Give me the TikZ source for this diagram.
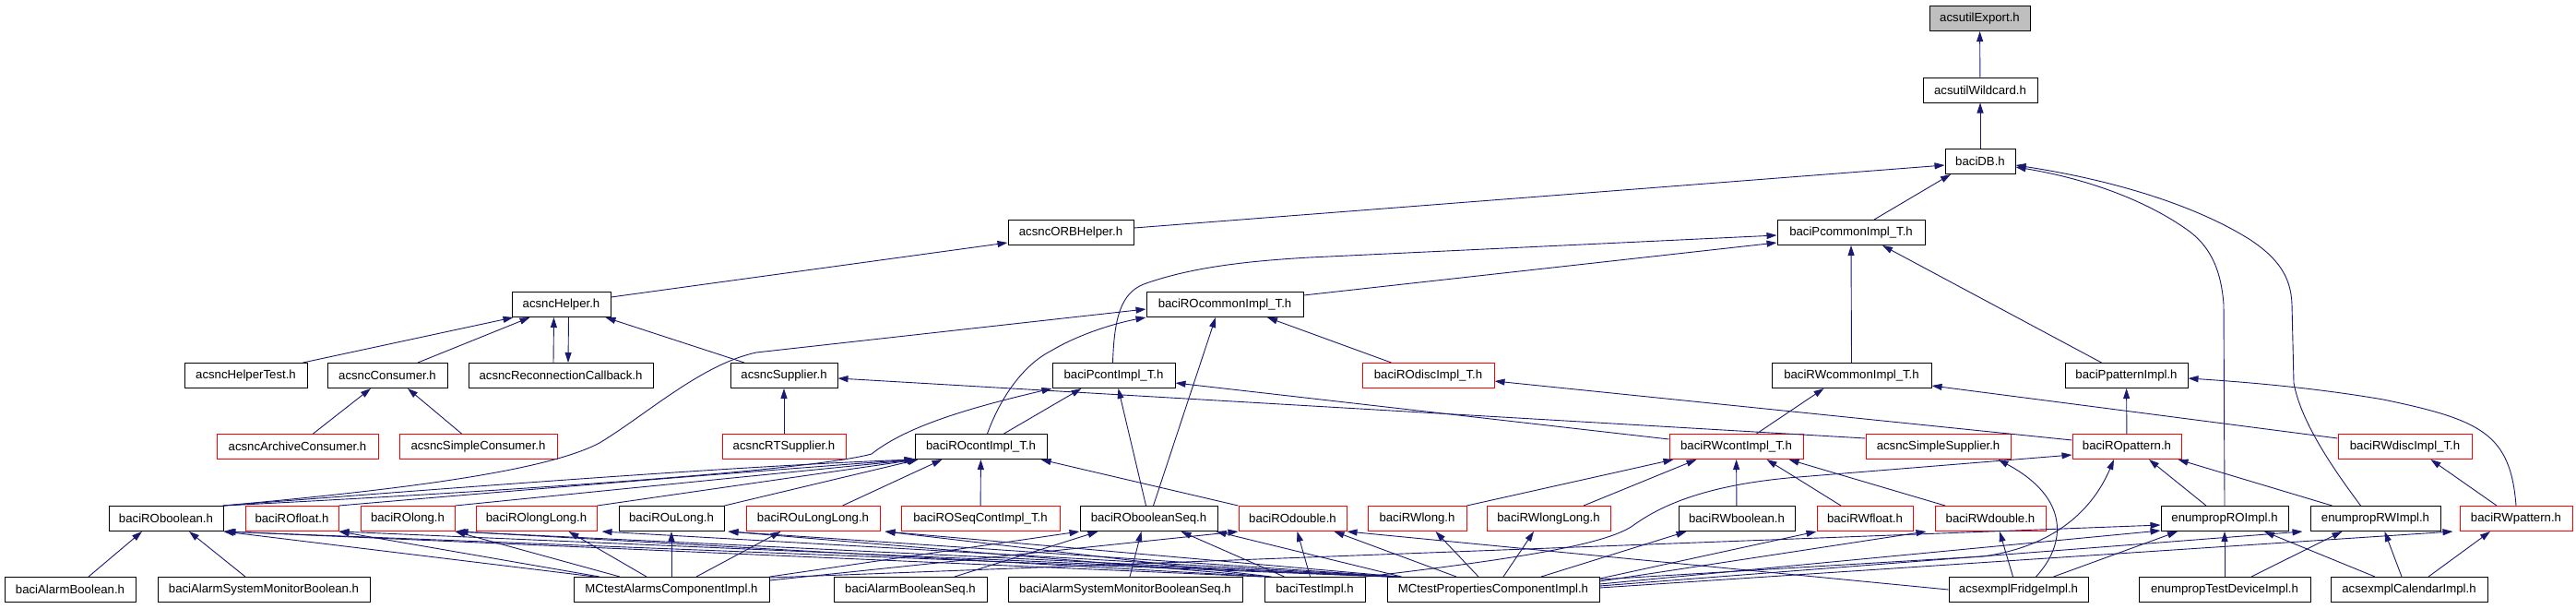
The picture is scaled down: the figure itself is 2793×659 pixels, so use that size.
\documentclass[tikz,border=0pt]{standalone}
\usepackage{fontspec}
\setmainfont{Liberation Sans}
\usetikzlibrary{arrows.meta}
\definecolor{edgeblue}{HTML}{191970}
\definecolor{rootgray}{HTML}{BFBFBF}
\begin{document}
\begin{tikzpicture}[x=1pt,y=-1pt,
  fnode/.style={draw=black, line width=1pt, minimum height=27pt, inner sep=0pt, font=\fontsize{13.2}{15}\selectfont, text=black},
  rnode/.style={fnode, draw=red},
  dep/.style={draw=edgeblue, line width=0.9pt, -{Triangle[length=11pt,width=7pt]}},
]
\useasboundingbox (0,0) rectangle (2793,659);
% row 0-2
\node[fnode, fill=rootgray, minimum width=109pt] (exp) at (2146.5,20) {acsutilExport.h};
\node[fnode, minimum width=124pt] (wild) at (2147,97.5) {acsutilWildcard.h};
\node[fnode, minimum width=76pt] (db) at (2147,175) {baciDB.h};
% row 3
\node[fnode, minimum width=136pt] (orb) at (1161,252) {acsncORBHelper.h};
\node[fnode, minimum width=160pt] (pcommon) at (2007,252) {baciPcommonImpl\_T.h};
% row 4
\node[fnode, minimum width=107pt] (helper) at (608.5,330) {acsncHelper.h};
\node[fnode, minimum width=170pt] (rocommon) at (1328,330) {baciROcommonImpl\_T.h};
% row 5
\node[fnode, minimum width=133pt] (helpertest) at (266.5,407) {acsncHelperTest.h};
\node[fnode, minimum width=130pt] (consumer) at (420,407) {acsncConsumer.h};
\node[fnode, minimum width=200pt] (reconn) at (608,407) {acsncReconnectionCallback.h};
\node[fnode, minimum width=116pt] (supplier) at (850,407) {acsncSupplier.h};
\node[fnode, minimum width=133pt] (pcont) at (1207.5,407) {baciPcontImpl\_T.h};
\node[rnode, minimum width=143pt] (rodisc) at (1548.5,407) {baciROdiscImpl\_T.h};
\node[fnode, minimum width=173pt] (rwcommon) at (2007.5,407) {baciRWcommonImpl\_T.h};
\node[fnode, minimum width=133pt] (ppattern) at (2305.5,407) {baciPpatternImpl.h};
% row 6
\node[rnode, minimum width=175pt] (archcons) at (322.5,484) {acsncArchiveConsumer.h};
\node[rnode, minimum width=171pt] (simplecons) at (518.5,484) {acsncSimpleConsumer.h};
\node[rnode, minimum width=134pt] (rtsupp) at (850,484) {acsncRTSupplier.h};
\node[fnode, minimum width=143pt] (rocont) at (1063.5,484) {baciROcontImpl\_T.h};
\node[rnode, minimum width=145pt] (rwcont) at (1882.5,484) {baciRWcontImpl\_T.h};
\node[rnode, minimum width=157pt] (simplesupp) at (2101.5,484) {acsncSimpleSupplier.h};
\node[rnode, minimum width=118pt] (ropattern) at (2306,484) {baciROpattern.h};
\node[rnode, minimum width=145pt] (rwdisc) at (2607.5,484) {baciRWdiscImpl\_T.h};
% row 7
\node[fnode, minimum width=124pt] (robool) at (180,562) {baciROboolean.h};
\node[rnode, minimum width=101pt] (rofloat) at (316.5,562) {baciROfloat.h};
\node[rnode, minimum width=102pt] (rolong) at (442,562) {baciROlong.h};
\node[rnode, minimum width=131pt] (rolonglong) at (581.5,562) {baciROlongLong.h};
\node[fnode, minimum width=114pt] (roulong) at (728,562) {baciROuLong.h};
\node[rnode, minimum width=145pt] (roulonglong) at (881.5,562) {baciROuLongLong.h};
\node[rnode, minimum width=172pt] (roseq) at (1063,562) {baciROSeqContImpl\_T.h};
\node[fnode, minimum width=149pt] (roboolseq) at (1245.5,562) {baciRObooleanSeq.h};
\node[rnode, minimum width=117pt] (rodouble) at (1401.5,562) {baciROdouble.h};
\node[rnode, minimum width=107pt] (rwlong) at (1536.5,562) {baciRWlong.h};
\node[rnode, minimum width=134pt] (rwlonglong) at (1679,562) {baciRWlongLong.h};
\node[fnode, minimum width=126pt] (rwbool) at (1883,562) {baciRWboolean.h};
\node[rnode, minimum width=104pt] (rwfloat) at (2022,562) {baciRWfloat.h};
\node[rnode, minimum width=120pt] (rwdouble) at (2158,562) {baciRWdouble.h};
\node[fnode, minimum width=138pt] (enumro) at (2412,562) {enumpropROImpl.h};
\node[fnode, minimum width=141pt] (enumrw) at (2575.5,562) {enumpropRWImpl.h};
\node[rnode, minimum width=122pt] (rwpattern) at (2728,562) {baciRWpattern.h};
% row 8
\node[fnode, minimum width=142pt] (alarmbool) at (76,639) {baciAlarmBoolean.h};
\node[fnode, minimum width=230pt] (asmbool) at (286,639) {baciAlarmSystemMonitorBoolean.h};
\node[fnode, minimum width=212pt] (mcalarms) at (728,639) {MCtestAlarmsComponentImpl.h};
\node[fnode, minimum width=166pt] (alarmboolseq) at (987,639) {baciAlarmBooleanSeq.h};
\node[fnode, minimum width=254pt] (asmboolseq) at (1220,639) {baciAlarmSystemMonitorBooleanSeq.h};
\node[fnode, minimum width=109pt] (testimpl) at (1425.5,639) {baciTestImpl.h};
\node[fnode, minimum width=230pt] (mcprops) at (1619,639) {MCtestPropertiesComponentImpl.h};
\node[fnode, minimum width=151pt] (fridge) at (2188.5,639) {acsexmplFridgeImpl.h};
\node[fnode, minimum width=186pt] (enumtest) at (2412,639) {enumpropTestDeviceImpl.h};
\node[fnode, minimum width=170pt] (calendar) at (2612,639) {acsexmplCalendarImpl.h};

% ---- edges: top part
\draw[dep] (wild) -- (exp);
\draw[dep] (db) -- (wild);
\draw[dep] ([yshift=5pt]orb.east) -- ([yshift=-4pt]db.west);
\draw[dep] ([xshift=25pt]pcommon.north) -- ([xshift=-32pt]db.south);
\draw[dep] (enumro.north) -- (2411,330) .. controls (2408,290) and (2395,265) .. (2370,248) .. controls (2330,220) and (2270,195) .. ([yshift=-6pt]db.east);
\draw[dep] ([xshift=-16pt]enumrw.north) .. controls (2535,515) and (2495,460) .. (2487,415) -- (2485,330) .. controls (2484,300) and (2470,280) .. (2440,260) .. controls (2380,222) and (2290,195) .. ([yshift=-4pt]db.east);
\draw[dep] ([yshift=-6pt]helper.north east) -- ([yshift=-11pt]orb.west);
\draw[dep] ([xshift=-1pt]pcont.north) .. controls (1208,345) and (1215,318) .. (1240,308) .. controls (1290,290) and (1350,283) .. (1420,279) -- ([yshift=-3pt]pcommon.west);
\draw[dep] ([yshift=-4pt]rocommon.north east) -- ([yshift=-11pt]pcommon.west);
\draw[dep] (rwcommon.north) -- (pcommon.south);
\draw[dep] ([xshift=-27pt]ppattern.north) -- ([xshift=34pt]pcommon.south);
% acsnc
\draw[dep] ([xshift=-5pt]helpertest.north east) -- ([xshift=2pt]helper.south west);
\draw[dep] ([xshift=33pt]consumer.north) -- ([xshift=-34pt]helper.south);
\draw[dep] ([xshift=-8pt]reconn.north) -- ([xshift=-8pt]helper.south);
\draw[dep] ([xshift=8pt]helper.south) -- ([xshift=8pt]reconn.north);
\draw[dep] ([xshift=-43pt]supplier.north) -- ([xshift=48pt]helper.south);
\draw[dep] ([xshift=17pt]archcons.north) -- ([xshift=-18pt]consumer.south);
\draw[dep] ([xshift=-18pt]simplecons.north) -- ([xshift=22pt]consumer.south);
\draw[dep] (rtsupp) -- (supplier);
\draw[dep] ([yshift=-5pt]simplesupp.north west) -- ([yshift=-3pt]supplier.east);
% baci common / cont
\draw[dep] ([xshift=-1pt]robool.north east) .. controls (420,532) and (590,512) .. (650,480) .. controls (700,450) and (760,395) .. (820,382) -- ([yshift=-5pt]rocommon.west);
\draw[dep] (robool.north east) .. controls (500,535) and (870,512) .. (945,492) .. controls (985,460) and (1060,440) .. (pcont.south west);
\draw[dep] ([xshift=7pt]rocont.north) .. controls (1085,430) and (1110,395) .. (1140,380) .. controls (1170,362) and (1210,350) .. (rocommon.south west);
\draw[dep] ([xshift=5pt]roboolseq.north) -- ([xshift=-10pt]rocommon.south);
\draw[dep] ([xshift=-40pt]rodisc.north) -- ([xshift=46pt]rocommon.south);
\draw[dep] ([xshift=25pt]rocont.north) -- ([xshift=-35pt]pcont.south);
\draw[dep] ([xshift=-3pt]roboolseq.north) -- ([xshift=5pt]pcont.south);
\draw[dep] ([yshift=-6pt]rwcont.north west) -- ([yshift=-8pt]pcont.east);
\draw[dep] ([yshift=-7pt]ropattern.north west) -- ([yshift=-6pt]rodisc.east);
\draw[dep] ([yshift=-5pt]rwdisc.north west) -- ([yshift=-11pt]rwcommon.east);
\draw[dep] ([xshift=22pt]rwcont.north) -- ([xshift=-30pt]rwcommon.south);
\draw[dep] (ropattern) -- (ppattern);
\draw[dep] (rwpattern.north) .. controls (2722,470) and (2690,455) .. (2584,433) .. controls (2520,422) and (2450,415) .. ([yshift=-3pt]ppattern.east);
\draw[dep] ([xshift=-21pt]rwpattern.north) -- ([xshift=28pt]rwdisc.south);
% row 7 -> rocont
\draw[dep] (robool.north east) .. controls (500,528) and (800,505) .. (rocont.south west);
\draw[dep] (rofloat.north east) .. controls (600,528) and (850,508) .. (rocont.south west);
\draw[dep] (rolong.north east) -- ([xshift=3pt]rocont.south west);
\draw[dep] (rolonglong.north east) -- ([xshift=3pt]rocont.south west);
\draw[dep] (roulong.north east) -- ([xshift=4pt]rocont.south west);
\draw[dep] ([xshift=32pt]roulonglong.north) -- ([xshift=-42pt]rocont.south);
\draw[dep] (roseq) -- (rocont);
\draw[dep] (rodouble.north west) -- ([xshift=65pt]rocont.south);
% row 7 -> rwcont
\draw[dep] (rwlong.north east) -- ([xshift=5pt]rwcont.south west);
\draw[dep] ([xshift=38pt]rwlonglong.north) -- ([xshift=30pt]rwcont.south west);
\draw[dep] (rwbool) -- (rwcont);
\draw[dep] ([xshift=-26pt]rwfloat.north) -- ([xshift=33pt]rwcont.south);
\draw[dep] ([xshift=-49pt]rwdouble.north) -- ([xshift=57pt]rwcont.south);
\draw[dep] ([xshift=-20pt]enumro.north) -- ([xshift=24pt]ropattern.south);
\draw[dep] ([xshift=-47pt]enumrw.north) -- ([xshift=-4pt]ropattern.south east);
\draw[dep] (testimpl.north east) .. controls (1650,605) and (1740,590) .. (1770,570) .. controls (1800,548) and (1850,525) .. (1950,517) -- ([yshift=-9pt]ropattern.west);
\draw[dep] ([yshift=-3pt]mcprops.north east) -- (2150,603) .. controls (2230,592) and (2270,550) .. ([xshift=-14pt]ropattern.south);
% row 8 -> row 7
\draw[dep] ([xshift=20pt]alarmbool.north) -- ([xshift=-26pt]robool.south);
\draw[dep] ([xshift=-20pt]asmbool.north) -- ([xshift=25pt]robool.south);
\draw[dep] ([xshift=48pt]alarmboolseq.north) -- ([xshift=-55pt]roboolseq.south);
\draw[dep] ([xshift=5pt]asmboolseq.north) -- ([xshift=-8pt]roboolseq.south);
\draw[dep] ([xshift=-33pt]testimpl.north) -- ([xshift=35pt]roboolseq.south);
\draw[dep] ([xshift=-5pt]testimpl.north) -- ([xshift=5pt]rodouble.south);
\draw[dep] ([xshift=-40pt]mcprops.north) -- ([xshift=45pt]rodouble.south);
\draw[dep] (fridge.west) -- (rodouble.south east);
\draw[dep] ([xshift=-16pt]mcprops.north) -- ([xshift=20pt]rwlong.south);
\draw[dep] ([xshift=11pt]mcprops.north) -- ([xshift=-16pt]rwlonglong.south);
\draw[dep] ([xshift=52pt]mcprops.north) -- ([xshift=9pt]rwbool.south west);
\draw[dep] ([yshift=-2pt]mcprops.north east) -- (rwfloat.south west);
\draw[dep] ([yshift=-5pt]mcprops.north east) -- ([xshift=-9pt]rwdouble.south west);
\draw[dep] ([yshift=-8pt]mcprops.north east) -- ([yshift=1pt]enumro.south west);
\draw[dep] ([yshift=-10pt]mcprops.north east) -- ([xshift=-8pt]enumrw.south west);
\draw[dep] ([yshift=-12pt]mcprops.north east) -- ([xshift=-7pt]rwpattern.south west);
\draw[dep] ([xshift=-6pt]fridge.north) -- ([xshift=10pt]rwdouble.south);
\draw[dep] ([xshift=38pt]fridge.north) -- ([xshift=-51pt]enumro.south);
\draw[dep] ([xshift=19pt]fridge.north) .. controls (2240,590) and (2245,540) .. ([xshift=65pt]simplesupp.south);
\draw[dep] (enumtest) -- (enumro);
\draw[dep] ([xshift=29pt]enumtest.north) -- ([xshift=-36pt]enumrw.south);
\draw[dep] ([xshift=-37pt]calendar.north) -- ([xshift=43pt]enumro.south);
\draw[dep] ([xshift=-8pt]calendar.north) -- ([xshift=10pt]enumrw.south);
\draw[dep] ([xshift=21pt]calendar.north) -- ([xshift=-28pt]rwpattern.south);
% MCtestAlarms
\draw[dep] ([xshift=-83pt]mcalarms.north) -- (robool.south east);
\draw[dep] ([xshift=-78pt]mcalarms.north) -- (rofloat.south east);
\draw[dep] ([xshift=-56pt]mcalarms.north) -- (rolong.south east);
\draw[dep] ([xshift=-27pt]mcalarms.north) -- ([xshift=35pt]rolonglong.south);
\draw[dep] (mcalarms) -- (roulong);
\draw[dep] ([xshift=27pt]mcalarms.north) -- ([xshift=-35pt]roulonglong.south);
\draw[dep] (mcalarms.north east) -- (roboolseq.south west);
\draw[dep] ([yshift=-4pt]mcalarms.north east) -- (rodouble.south west);
\draw[dep] ([yshift=-1pt]mcalarms.north east) -- ([yshift=7pt]enumro.south west);
% MCtestProperties -> RO
\draw[dep] (mcprops.north west) -- (robool.south east);
\draw[dep] ([xshift=4pt]mcprops.north west) -- (rofloat.south east);
\draw[dep] ([xshift=8pt]mcprops.north west) -- (rolong.south east);
\draw[dep] ([xshift=10pt]mcprops.north west) -- ([xshift=5pt]rolonglong.south east);
\draw[dep] ([xshift=12pt]mcprops.north west) -- ([xshift=4pt]roulong.south east);
\draw[dep] ([xshift=14pt]mcprops.north west) -- ([xshift=5pt]roulonglong.south east);
\draw[dep] ([xshift=16pt]mcprops.north west) -- ([xshift=-2pt]roboolseq.south east);
% baciTestImpl -> RO
\draw[dep] ([xshift=-2pt]testimpl.north west) -- ([xshift=2pt]robool.south east);
\draw[dep] ([xshift=2pt]testimpl.north west) -- ([xshift=3pt]rolong.south east);
\draw[dep] ([xshift=5pt]testimpl.north west) -- ([xshift=4pt]roulong.south east);
\draw[dep] ([xshift=8pt]testimpl.north west) -- ([xshift=5pt]roulonglong.south east);
\end{tikzpicture}
\end{document}
